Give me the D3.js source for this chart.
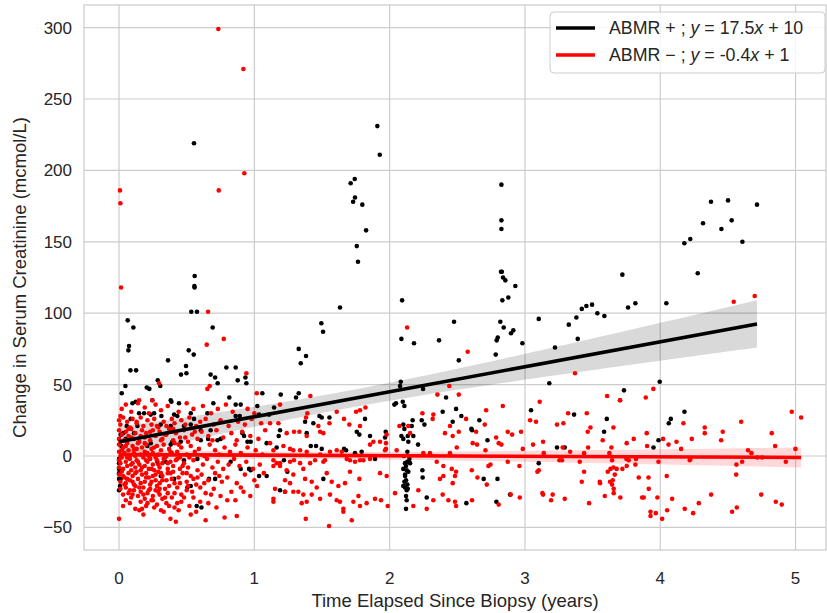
<!DOCTYPE html>
<html>
<head>
<meta charset="utf-8">
<script src="https://cdn.jsdelivr.net/npm/d3@7"></script>
<style>
  body { margin: 0; background: #fff; }
  text { font-family: "Liberation Sans", Arial, sans-serif; fill: #262626; }
</style>
</head>
<body>
<svg width="827" height="613"></svg>
<script>
// ABMR + (black) points: [years since biopsy, change in creatinine]
const abmrPos = [
  [0.554,219],[1.909,231],[1.927,211],[1.742,194],[1.712,191],[1.744,181],[1.730,178],[1.798,176],[1.826,158],[1.757,147],
  [2.826,190],[2.826,165],[2.826,159],
  [4.375,178],[4.501,179],[4.715,176],[4.316,163],[4.528,165],[4.452,159],[4.607,150],[4.178,149],[4.222,152],
  [0.559,126],[0.557,119],[0.558,118],[0.534,101],[0.576,101],[0.064,95],[0.106,90],[0.692,90],[0.074,77],[0.069,74],
  [0.515,74],[0.552,71],[0.362,67],[0.495,63],[0.084,60],[0.126,60],[0.793,62],[0.862,62],[0.458,57],[0.498,58],
  [0.677,57],[0.71,55],[0.934,55],[0.877,53],[0.941,51],[0.729,51],[0.286,53],[0.305,49],[0.205,48],[0.224,47],
  [0.047,49],[0.02,44],[0.815,41],[1.059,44],[0.382,39],
  [1.766,136],[2.092,109],[1.633,104],[1.495,93],[1.508,87],[2.087,82],[2.18,79],[2.365,81],[2.476,94],[1.328,75],
  [1.382,70],[1.343,65],[1.195,43],[1.328,44],[1.308,41],[2.082,52],[2.077,49],[2.247,47],[2.417,41],
  [2.823,129],[2.829,129],[2.838,125],[2.855,123],[2.929,119],[2.877,111],[2.833,109],[2.818,94],[2.843,90],[2.914,88],
  [2.897,86],[2.799,83],[2.791,81],[2.981,79],[2.784,71],[2.511,67],[3.102,96],[3.222,76],[3.324,92],[3.380,97],
  [3.390,82],[3.42,103],[3.454,105],[3.496,106],[3.535,100],[3.587,98],[3.720,127],[3.762,104],[3.816,107],[3.18,51],
  [3.732,46],[4.277,128],[4.045,107],[3.996,52],
  [0.099,37],[0.123,38],[0.246,39],[0.387,38],[0.443,37],[0.697,37],[0.862,36],[0.899,36],[1.022,35],[0.148,30],
  [0.185,30],[0.234,29],[0.259,30],[0.313,28],[0.407,29],[0.431,28],[0.53,30],[0.554,26],[0.653,30],[0.862,28],
  [0.892,28],[1.035,29],[1.109,29],[0.057,21],[0.111,16],[0.136,21],[0.308,22],[0.382,21],[0.48,21],[0.53,22],
  [0.604,18],[0.677,18],[0.912,16],[0.924,14],[0.012,15],[0.049,12],[0.209,7],[0.234,9],[0.394,10],[0.382,8],
  [0.456,10],[0.604,11],[0.658,12],[0.727,11],[0.751,12],[0.949,10],[0.973,10],[1.091,9],[0.345,-4],[0.283,-4],
  [0.48,-3],[0.579,-2],[0.825,-4],[0.899,-9],[0.961,-9],[0.973,-10],[0,-12],[0,-16],[0.012,-16],[0.308,-14],
  [0.407,-16],[0.505,-22],[0.53,-21],[0.665,-16],[0.71,-16],[1.035,-14],[1.091,-14],[0,-24],[0.007,-21],[0.574,-35],
  [0.609,-36],[0,-5],[0,-9],[0,-2],[0.017,7],[0.032,16],[0.086,26],
  [1.146,34],[1.18,14],[1.19,18],[1.165,6],[1.219,-3],[1.244,-11],[1.375,24],[1.387,16],[1.436,23],[1.481,28],
  [1.498,27],[1.555,27],[1.417,7],[1.456,7],[1.498,5],[1.51,-16],[1.19,-24],[1.227,-25],[1.663,5],[1.678,4],
  [1.757,17],[1.776,15],[1.744,2],[1.793,3],[1.818,26],[1.855,14],[1.892,-2],[1.971,17],[1.966,13],[2.035,36],
  [2.047,37],[2.097,38],[2.109,35],[2.101,22],[2.109,19],[2.134,14],[2.163,21],[2.17,25],[2.087,14],[2.101,12],
  [2.138,10],[2.175,14],[2.131,3],[2.131,-4],[2.114,-5],[2.121,-7],[2.126,-10],[2.114,-13],[2.121,-17],[2.114,-22],
  [2.126,-24],[2.121,-28],[2.126,-31],[2.121,-37],[2.151,-5],[2.101,-9],[2.138,-11],[2.109,-18],[2.131,-20],[2.106,0],
  [2.146,-2],[2.114,-14],[2.101,-21],[2.134,-23],[2.237,25],[2.257,22],[2.242,-10],[2.244,-15],[2.274,-29],[2.392,31],
  [2.466,24],[2.21,8],
  [2.491,33],[2.53,28],[2.663,25],[2.604,19],[2.609,18],[2.723,11],[2.695,-16],[2.797,-16],[2.567,-33],[2.789,-32],
  [2.89,-27],[3.045,32],[3.363,29],[3.605,26],[3.585,17],[3.237,6],[3.294,6],[3.102,-5],
  [4.179,31],[4.078,26],[4.063,23],[3.987,11],[3.95,6]
];

// ABMR − (red) points
const abmrNeg = [
  [0.734,299],[0.919,271],[0.926,198],[0.007,186],[0.737,186],[0.01,177],[0.015,118],[0.658,101],[0.774,82],[0.648,78],
  [0.941,58],[0.296,51],[0.670,49],[0.653,47],[1.018,44],[0.148,39],[0.246,39],
  [2.129,90],[1.414,42],[2.441,49],[2.353,43],[2.577,73],[3.370,58],[3.607,42],[3.703,39],[2.511,43],[4.543,108],
  [4.698,112],[3.949,47],[3.893,41],
  [0.02,33],[0.05,36],[0.09,31],[0.14,37],[0.19,34],[0.27,36],[0.31,32],[0.36,35],[0.44,31],[0.5,37],
  [0.55,33],[0.62,35],[0.68,30],[0.73,33],[0.79,36],[0.84,31],[0.95,33],[1.0,30],[0.01,28],[0.22,30],
  [0.0,25],[0.01,22],[0.03,27],[0.06,24],[0.08,20],[0.1,26],[0.13,23],[0.16,27],[0.18,21],[0.21,25],
  [0.24,22],[0.26,26],[0.29,20],[0.33,24],[0.35,21],[0.39,26],[0.41,23],[0.46,25],[0.49,22],[0.52,27],
  [0.57,21],[0.6,24],[0.64,26],[0.7,22],[0.75,25],[0.81,21],[0.88,24],[0.93,22],[0.98,26],[1.05,23],
  [0.0,18],[0.0,12],[0.02,15],[0.04,11],[0.05,17],[0.07,14],[0.09,19],[0.11,12],[0.12,16],[0.15,10],
  [0.17,18],[0.19,13],[0.2,16],[0.23,11],[0.25,18],[0.27,14],[0.3,17],[0.32,12],[0.34,15],[0.37,19],
  [0.4,11],[0.42,16],[0.45,13],[0.48,18],[0.51,10],[0.54,15],[0.58,12],[0.61,17],[0.66,14],[0.69,11],
  [0.72,18],[0.77,13],[0.83,16],[0.87,11],[0.91,17],[0.97,14],[1.03,12],[1.08,18],
  [0.0,8],[0.0,3],[0.01,0],[0.03,6],[0.04,2],[0.06,9],[0.07,4],[0.08,0],[0.1,7],[0.11,2],
  [0.13,5],[0.14,9],[0.16,1],[0.17,6],[0.19,3],[0.2,8],[0.22,0],[0.24,5],[0.25,2],[0.28,7],
  [0.29,1],[0.31,4],[0.33,8],[0.35,0],[0.37,5],[0.39,2],[0.41,9],[0.43,3],[0.46,6],[0.5,1],
  [0.53,7],[0.56,3],[0.59,5],[0.63,0],[0.67,8],[0.71,4],[0.74,1],[0.78,6],[0.82,3],[0.86,8],
  [0.9,2],[0.95,6],[1.01,4],[1.06,1],
  [0.0,-3],[0.0,-8],[0.01,-5],[0.02,-1],[0.03,-9],[0.05,-4],[0.06,-7],[0.08,-2],[0.09,-10],[0.1,-5],
  [0.12,-8],[0.13,-3],[0.15,-6],[0.16,-10],[0.18,-1],[0.19,-7],[0.21,-4],[0.22,-9],[0.23,-2],[0.25,-6],
  [0.26,-10],[0.28,-3],[0.3,-8],[0.32,-5],[0.34,-1],[0.36,-9],[0.38,-4],[0.4,-7],[0.43,-2],[0.45,-9],
  [0.48,-5],[0.51,-8],[0.55,-3],[0.58,-10],[0.62,-6],[0.65,-2],[0.69,-8],[0.73,-4],[0.77,-9],[0.81,-6],
  [0.85,-2],[0.89,-7],[0.94,-4],[0.99,-9],[1.04,-6],
  [0.0,-13],[0.01,-18],[0.02,-11],[0.04,-15],[0.05,-19],[0.07,-12],[0.08,-17],[0.1,-14],[0.11,-20],[0.13,-11],
  [0.14,-16],[0.16,-19],[0.17,-13],[0.19,-18],[0.2,-12],[0.22,-15],[0.23,-20],[0.25,-14],[0.27,-17],[0.29,-11],
  [0.3,-19],[0.32,-14],[0.35,-17],[0.38,-12],[0.41,-19],[0.44,-15],[0.47,-12],[0.5,-18],[0.53,-14],[0.57,-20],
  [0.61,-13],[0.66,-17],[0.71,-12],[0.76,-18],[0.8,-15],[0.87,-19],[0.93,-13],[1.0,-17],[1.07,-12],
  [0.01,-23],[0.03,-27],[0.05,-22],[0.07,-26],[0.09,-29],[0.11,-24],[0.12,-21],[0.14,-28],[0.16,-25],[0.18,-22],
  [0.19,-30],[0.21,-26],[0.23,-23],[0.25,-28],[0.27,-24],[0.28,-21],[0.3,-27],[0.32,-30],[0.34,-23],[0.36,-26],
  [0.39,-29],[0.43,-22],[0.46,-27],[0.5,-24],[0.55,-29],[0.6,-22],[0.64,-26],[0.7,-23],[0.75,-28],[0.83,-25],
  [0.9,-22],[0.97,-28],
  [0.08,-33],[0.12,-37],[0.16,-32],[0.2,-35],[0.24,-31],[0.28,-34],[0.31,-38],[0.35,-33],[0.41,-36],[0.46,-32],
  [0.52,-35],[0.57,-39],[0.66,-33],[0.72,-36],[0.86,-31],
  [0.0,-44],[0.17,-37],[0.42,-46],[0.53,-41],[0.64,-45],[0.78,-43],[0.87,-42],[0.38,-44],
  [0.01,10],[0.02,4],[0.03,-14],[0.04,-20],[0.05,7],[0.06,-1],[0.07,19],[0.08,-24],[0.09,13],[0.1,-18],
  [0.11,5],[0.12,-12],[0.13,24],[0.14,-4],[0.15,-22],[0.16,14],[0.17,-8],[0.18,-27],[0.19,9],[0.2,-15],
  [0.21,2],[0.22,-24],[0.23,17],[0.24,-9],[0.25,-31],[0.26,6],[0.27,-13],[0.28,21],[0.29,-6],[0.3,-23],
  [0.31,11],[0.32,-17],[0.33,-2],[0.34,-29],[0.35,15],[0.36,-12],[0.37,-21],[0.38,3],[0.39,-16],[0.4,19],
  [0.41,-26],[0.42,-3],[0.43,-33],[0.44,8],[0.45,-19],[0.47,-7],[0.48,-29],[0.49,13],[0.51,-21],[0.52,-1],
  [0.54,-25],[0.56,17],[0.58,-15],[0.6,-32],[0.15,-38],[0.18,-41],[0.21,-33],[0.26,-36],[0.33,-39],[0.37,-35],
  [0.44,-38],[0.05,-31],[0.03,-35],[0.1,-27],[0.2,-3],[0.12,0],[0.27,-1],[0.06,-16],[0.09,-6],[0.24,-18],
  [0.29,-25],[0.31,-12],[0.36,-5],[0.4,-11],[0.45,-1],[0.5,-12],[0.55,-16],[0.63,-19],[0.68,-27],[0.74,-14],
  [0.8,-31],[0.92,-25],[1.02,-21],
  [1.19,36],[1.392,30],[1.382,27],[1.116,23],[1.178,23],[1.239,16],[1.293,17],[1.333,17],[1.387,14],[1.473,21],
  [1.486,17],[1.51,16],[1.555,23],[1.609,31],[1.663,26],[1.702,22],[1.752,31],[1.781,32],[1.821,34],[1.781,21],
  [1.855,8],[1.88,10],[1.929,10],[1.973,9],[1.973,5],[1.978,15],[2.072,21],[2.138,21],[2.151,16],[2.242,30],
  [2.323,29],[2.318,26],[2.446,21],[2.409,16],[2.466,14],[1.116,9],[1.141,4],[1.215,7],[1.264,5],[1.288,4],
  [1.338,4],[1.387,3],[1.486,1],[1.522,-3],[1.559,3],[1.609,4],[1.646,3],[1.683,-2],[1.707,-3],[1.744,-4],
  [1.781,-3],[1.806,-3],[1.855,-2],[1.966,4],[2.052,4],[2.249,2],[2.298,2],[2.446,2],[2.348,-4],[2.397,-7],
  [2.459,-9],[2.483,-14],[1.141,-3],[1.165,-5],[1.19,-5],[1.264,-4],[1.293,-3],[1.338,-5],[1.412,-5],[1.449,-3],
  [1.51,-4],[1.141,-7],[1.19,-7],[1.239,-10],[1.288,-13],[1.362,-9],[1.375,-16],[1.424,-18],[1.227,-17],[1.264,-19],
  [1.461,-22],[1.535,-12],[1.572,-18],[1.621,-21],[1.67,-19],[1.707,-11],[1.776,-16],[1.929,-12],[1.978,-14],[2.04,-26],
  [2.212,-24],[2.372,-16],[2.397,-14],[2.466,-19],[1.153,-23],[1.227,-25],[1.288,-25],[1.325,-25],[1.362,-27],[1.141,-30],
  [1.141,-32],[1.35,-33],[1.387,-32],[1.424,-27],[1.486,-30],[1.559,-27],[1.609,-31],[1.633,-32],[1.658,-37],[1.658,-39],
  [1.732,-32],[1.769,-28],[1.83,-33],[1.781,-35],[1.892,-30],[1.936,-31],[1.986,-35],[2.175,-35],[2.274,-37],[2.323,-31],
  [2.392,-27],[2.434,-31],[2.483,-32],[1.38,-44],[1.552,-49],[1.72,-45],
  [2.836,35],[3.109,38],[3.703,39],[2.713,32],[2.565,26],[3.038,25],[3.082,24],[3.319,30],[3.457,30],[3.284,23],
  [3.237,22],[3.484,20],[3.464,17],[3.654,20],[2.703,22],[2.511,17],[2.639,17],[2.873,17],[2.905,15],[2.971,17],
  [2.787,13],[2.806,9],[2.826,8],[2.614,9],[2.646,8],[2.708,4],[2.496,6],[2.984,5],[3.06,8],[3.134,10],
  [3.139,2],[3.334,3],[3.279,6],[3.437,2],[3.467,6],[3.575,11],[3.639,6],[3.752,9],[3.804,12],[3.624,2],
  [3.255,-3],[3.274,-3],[3.405,-4],[3.644,-3],[3.75,-2],[3.767,-3],[3.821,-2],[2.873,-4],[2.73,-7],[2.745,-6],
  [2.959,-7],[2.491,-11],[2.607,-10],[3.092,-11],[3.102,-10],[3.437,-11],[3.612,-11],[3.632,-9],[3.654,-8],[3.678,-9],
  [3.72,-9],[3.752,-7],[3.816,-6],[3.841,-15],[3.664,-13],[2.649,-15],[2.718,-20],[3.42,-18],[3.553,-18],[3.555,-19],
  [3.629,-18],[3.649,-17],[3.644,-20],[3.656,-23],[3.656,-26],[3.705,-29],[3.59,-28],[3.129,-26],[3.134,-27],[3.205,-27],
  [3.193,-31],[3.294,-30],[3.474,-33],[2.962,-29],[2.895,-27],[2.609,-31],[2.806,-34],[2.491,-35],[3.866,-29],
  [4.972,31],[5.041,27],[4.598,24],[4.171,23],[4.329,20],[4.329,16],[4.462,17],[4.824,16],[3.9,16],[4.45,11],
  [4.233,12],[4.021,12],[4.12,10],[4.061,8],[3.903,7],[4.154,5],[4.849,7],[4.999,5],[4.649,4],[4.674,2],
  [4.718,-1],[4.753,-1],[4.223,-2],[4.218,-3],[3.987,-4],[4.605,-4],[4.928,-4],[4.563,-6],[3.913,-15],[4.048,-14],
  [4.561,-13],[3.915,-23],[4.376,-27],[4.746,-27],[3.878,-29],[3.979,-29],[4.088,-30],[4.285,-33],[4.854,-32],[4.898,-34],
  [4.181,-37],[4.051,-38],[4.566,-36],[4.531,-39],[4.243,-40],[3.928,-39],[3.928,-42],[3.967,-40],[4.014,-44]
];

// fitted lines, as printed in the legend
const seriesNames = ["ABMR +", "ABMR \u2212"];
const fitSlopes = [17.5, -0.4];
const fitIntercepts = [10, 1];
const seriesColors = ["#000000", "#ff0000"];

const xTicks = [0, 1, 2, 3, 4, 5];
const yTicks = [-50, 0, 50, 100, 150, 200, 250, 300];

const svg = d3.select("svg");
const margin = {left: 84, top: 5, right: 1, bottom: 63};
const W = 827, H = 613;

const x = d3.scaleLinear().domain([-0.259, 5.225]).range([margin.left, W - margin.right]);
const y = d3.scaleLinear().domain([-65.8, 315.8]).range([H - margin.bottom, margin.top]);

// grid
svg.append("g").selectAll("line").data(xTicks).join("line")
  .attr("x1", d => x(d)).attr("x2", d => x(d))
  .attr("y1", y.range()[1]).attr("y2", y.range()[0])
  .attr("stroke", "#cccccc").attr("stroke-width", 1.2);
svg.append("g").selectAll("line").data(yTicks).join("line")
  .attr("y1", d => y(d)).attr("y2", d => y(d))
  .attr("x1", x.range()[0]).attr("x2", x.range()[1])
  .attr("stroke", "#cccccc").attr("stroke-width", 1.2);

// 95% band around the fit line
function band(pts, slope, intercept) {
  const n = pts.length;
  const xm = d3.mean(pts, d => d[0]);
  const sxx = d3.sum(pts, d => (d[0] - xm) ** 2);
  const sse = d3.sum(pts, d => (d[1] - (intercept + slope * d[0])) ** 2);
  const s = Math.sqrt(sse / (n - 2));
  const [x0, x1] = d3.extent(pts, d => d[0]);
  return d3.range(0, 101).map(i => {
    const xv = x0 + (x1 - x0) * i / 100;
    const se = 1.96 * s * Math.sqrt(1 / n + (xv - xm) ** 2 / sxx);
    const yv = intercept + slope * xv;
    return [xv, yv - se, yv + se];
  });
}

const area = d3.area().x(d => x(d[0])).y0(d => y(d[1])).y1(d => y(d[2]));
const plot = svg.append("g");
const series = [abmrPos, abmrNeg];

series.forEach((pts, i) => {
  plot.append("g").selectAll("circle").data(pts).join("circle")
    .attr("cx", d => x(d[0])).attr("cy", d => y(d[1]))
    .attr("r", 2.3)
    .attr("fill", seriesColors[i]);
  plot.append("path")
    .attr("d", area(band(pts, fitSlopes[i], fitIntercepts[i])))
    .attr("fill", seriesColors[i]).attr("fill-opacity", 0.15);
});

series.forEach((pts, i) => {
  const [x0, x1] = d3.extent(pts, d => d[0]);
  plot.append("line")
    .attr("x1", x(x0)).attr("y1", y(fitIntercepts[i] + fitSlopes[i] * x0))
    .attr("x2", x(x1)).attr("y2", y(fitIntercepts[i] + fitSlopes[i] * x1))
    .attr("stroke", seriesColors[i]).attr("stroke-width", 3.6);
});

// frame
svg.append("rect")
  .attr("x", x.range()[0]).attr("y", y.range()[1])
  .attr("width", x.range()[1] - x.range()[0]).attr("height", y.range()[0] - y.range()[1])
  .attr("fill", "none").attr("stroke", "#cccccc").attr("stroke-width", 1.25);

// tick labels
svg.append("g").selectAll("text").data(xTicks).join("text")
  .attr("x", d => x(d)).attr("y", 584)
  .attr("text-anchor", "middle").attr("font-size", 17)
  .text(d => d);
svg.append("g").selectAll("text").data(yTicks).join("text")
  .attr("x", 72).attr("y", d => y(d) + 6)
  .attr("text-anchor", "end").attr("font-size", 17)
  .text(d => d < 0 ? "\u2212" + Math.abs(d) : d);

// axis labels
svg.append("text")
  .attr("x", (x.range()[0] + x.range()[1]) / 2).attr("y", 607)
  .attr("text-anchor", "middle").attr("font-size", 18.5)
  .text("Time Elapsed Since Biopsy (years)");
svg.append("text")
  .attr("transform", `translate(26,${(y.range()[0] + y.range()[1]) / 2}) rotate(-90)`)
  .attr("text-anchor", "middle").attr("font-size", 18.5)
  .text("Change in Serum Creatinine (mcmol/L)");

// legend
const lg = svg.append("g");
lg.append("rect")
  .attr("x", 550).attr("y", 12).attr("width", 275).attr("height", 61).attr("rx", 4)
  .attr("fill", "#fff").attr("fill-opacity", 0.8)
  .attr("stroke", "#cccccc").attr("stroke-width", 1);
seriesNames.forEach((name, i) => {
  const ly = 28 + i * 27;
  lg.append("line")
    .attr("x1", 556).attr("x2", 595).attr("y1", ly).attr("y2", ly)
    .attr("stroke", seriesColors[i]).attr("stroke-width", 3.6);
  const t = lg.append("text").attr("x", 609).attr("y", ly + 6).attr("font-size", 17.8);
  t.append("tspan").text(name + " ; ");
  t.append("tspan").attr("font-style", "italic").text("y");
  t.append("tspan").text(" = " + fitSlopes[i]);
  t.append("tspan").attr("font-style", "italic").text("x");
  t.append("tspan").text(" + " + fitIntercepts[i]);
});
</script>
</body>
</html>
